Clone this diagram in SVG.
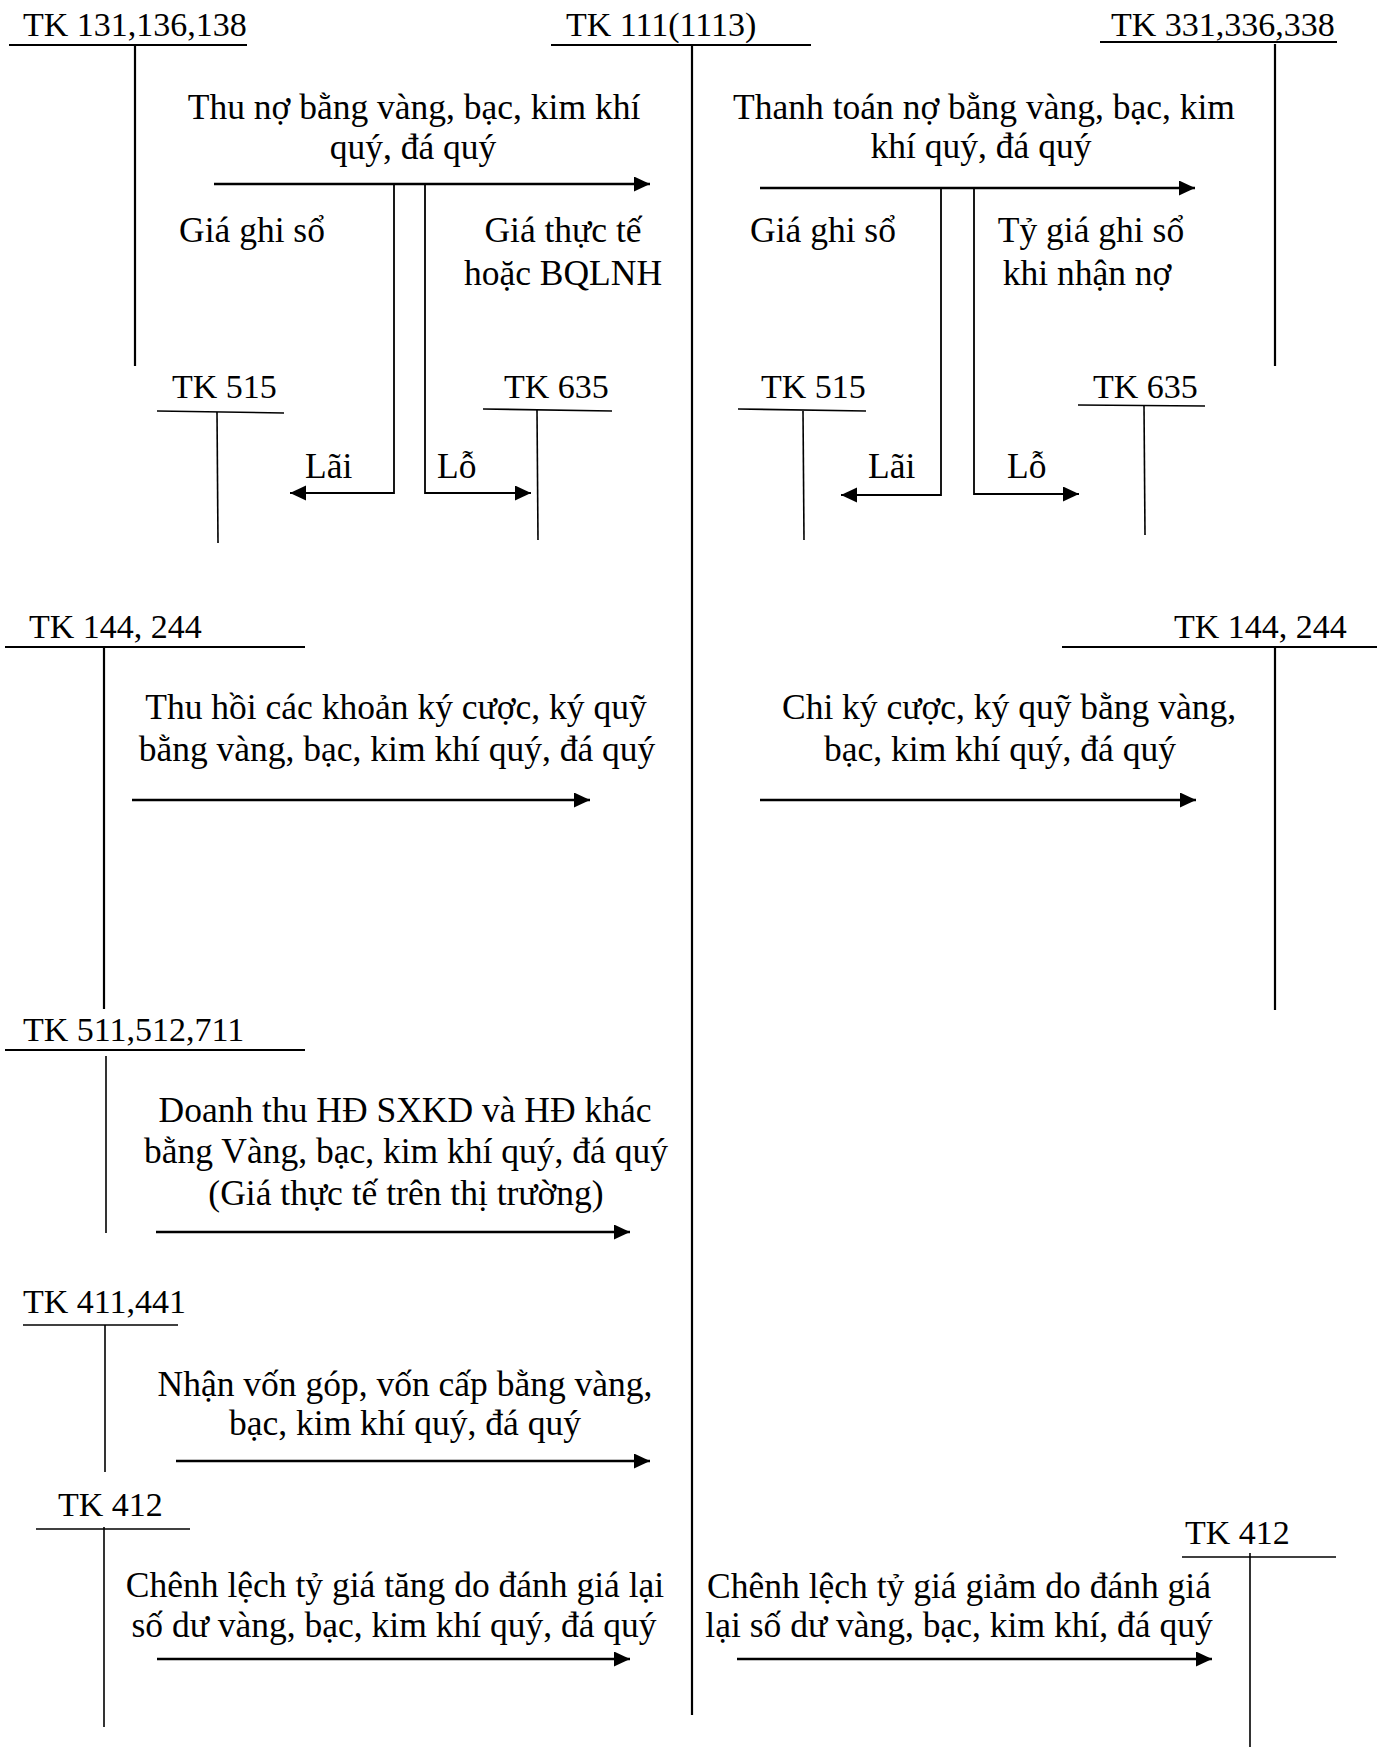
<svg xmlns="http://www.w3.org/2000/svg" width="1383" height="1747" viewBox="0 0 1383 1747">
<style>
text { font-family: "Liberation Serif", "Times New Roman", serif; fill: #000; }
.lbl { font-size: 34px; }
.txt { font-size: 35.5px; }
.c { text-anchor: middle; }
.tl { stroke: #000; stroke-width: 2.2; fill: none; }
.th { stroke: #000; stroke-width: 1.6; fill: none; }
.arr { stroke: #000; stroke-width: 2.6; fill: none; marker-end: url(#ah); }
.br { stroke: #000; stroke-width: 1.8; fill: none; marker-end: url(#ah); }
</style>
<defs>
<marker id="ah" markerUnits="userSpaceOnUse" markerWidth="17" markerHeight="16" refX="16" refY="7.5" orient="auto">
<path d="M0,0 L16,7.5 L0,15 z" fill="#000"/>
</marker>
</defs>
<rect x="0" y="0" width="1383" height="1747" fill="#fff"/>

<g id="tk131">
<text class="lbl" x="23" y="36">TK 131,136,138</text>
<line class="tl" x1="9" y1="45" x2="247" y2="45"/>
<line class="tl" x1="135" y1="45" x2="135" y2="366"/>
</g>
<g id="tk111">
<text class="lbl" x="566" y="36">TK 111(1113)</text>
<line class="tl" x1="551" y1="45" x2="811" y2="45"/>
<line class="tl" x1="692" y1="45" x2="692" y2="1715"/>
</g>
<g id="tk331">
<text class="lbl" x="1111" y="36">TK 331,336,338</text>
<line class="tl" x1="1100" y1="42" x2="1337" y2="42"/>
<line class="tl" x1="1275" y1="44" x2="1275" y2="366"/>
</g>
<g id="tk515a">
<text class="lbl" x="172" y="398">TK 515</text>
<line class="th" x1="157" y1="411" x2="284" y2="413"/>
<line class="th" x1="217" y1="412" x2="218" y2="543"/>
</g>
<g id="tk635a">
<text class="lbl" x="504" y="398">TK 635</text>
<line class="th" x1="483" y1="409" x2="612" y2="411"/>
<line class="th" x1="537" y1="410" x2="538" y2="540"/>
</g>
<g id="tk515b">
<text class="lbl" x="761" y="398">TK 515</text>
<line class="th" x1="738" y1="409" x2="866" y2="411"/>
<line class="th" x1="803" y1="411" x2="804" y2="540"/>
</g>
<g id="tk635b">
<text class="lbl" x="1093" y="398">TK 635</text>
<line class="th" x1="1078" y1="405" x2="1205" y2="406"/>
<line class="th" x1="1144" y1="405" x2="1145" y2="535"/>
</g>
<g id="tk144a">
<text class="lbl" x="29" y="638">TK 144, 244</text>
<line class="tl" x1="5" y1="647" x2="305" y2="647"/>
<line class="tl" x1="104" y1="647" x2="104" y2="1009"/>
</g>
<g id="tk144b">
<text class="lbl" x="1174" y="638">TK 144, 244</text>
<line class="tl" x1="1062" y1="647" x2="1377" y2="647"/>
<line class="tl" x1="1275" y1="647" x2="1275" y2="1010"/>
</g>
<g id="tk511">
<text class="lbl" x="23" y="1041">TK 511,512,711</text>
<line class="tl" x1="5" y1="1050" x2="305" y2="1050"/>
<line class="th" x1="106" y1="1056" x2="106" y2="1233"/>
</g>
<g id="tk411">
<text class="lbl" x="23" y="1313">TK 411,441</text>
<line class="th" x1="23" y1="1325" x2="178" y2="1325"/>
<line class="th" x1="105" y1="1325" x2="105" y2="1472"/>
</g>
<g id="tk412a">
<text class="lbl" x="58" y="1516">TK 412</text>
<line class="th" x1="36" y1="1529" x2="190" y2="1529"/>
<line class="th" x1="104" y1="1527" x2="104" y2="1727"/>
</g>
<g id="tk412b">
<text class="lbl" x="1185" y="1544">TK 412</text>
<line class="th" x1="1182" y1="1557" x2="1336" y2="1557"/>
<line class="th" x1="1250" y1="1553" x2="1250" y2="1747"/>
</g>

<g id="connectors">
<path class="arr" d="M214,184 H650"/>
<path class="br" d="M394,184 V493 H290"/>
<path class="br" d="M425,184 V493 H531"/>
<text class="txt c" x="414" y="119">Thu nợ bằng vàng, bạc, kim khí</text>
<text class="txt c" x="413" y="159">quý, đá quý</text>
<text class="txt" x="179" y="242">Giá ghi sổ</text>
<text class="txt c" x="563" y="242">Giá thực tế</text>
<text class="txt c" x="563" y="285">hoặc BQLNH</text>
<text class="txt" x="305" y="478">Lãi</text>
<text class="txt" x="437" y="478">Lỗ</text>

<path class="arr" d="M760,188 H1195"/>
<path class="br" d="M941,188 V495 H841"/>
<path class="br" d="M974,188 V494 H1079"/>
<text class="txt c" x="984" y="119">Thanh toán nợ bằng vàng, bạc, kim</text>
<text class="txt c" x="981" y="158">khí quý, đá quý</text>
<text class="txt" x="750" y="242">Giá ghi sổ</text>
<text class="txt c" x="1091" y="242">Tỷ giá ghi sổ</text>
<text class="txt c" x="1087" y="285">khi nhận nợ</text>
<text class="txt" x="868" y="478">Lãi</text>
<text class="txt" x="1007" y="478">Lỗ</text>

<path class="arr" d="M132,800 H590"/>
<text class="txt c" x="396" y="719">Thu hồi các khoản ký cược, ký quỹ</text>
<text class="txt c" x="397" y="761">bằng vàng, bạc, kim khí quý, đá quý</text>

<path class="arr" d="M760,800 H1196"/>
<text class="txt c" x="1009" y="719">Chi ký cược, ký quỹ bằng vàng,</text>
<text class="txt c" x="1000" y="761">bạc, kim khí quý, đá quý</text>

<path class="arr" d="M156,1232 H630"/>
<text class="txt c" x="405" y="1122">Doanh thu HĐ SXKD và HĐ khác</text>
<text class="txt c" x="406" y="1163">bằng Vàng, bạc, kim khí quý, đá quý</text>
<text class="txt c" x="406" y="1205">(Giá thực tế trên thị trường)</text>

<path class="arr" d="M176,1461 H650"/>
<text class="txt c" x="405" y="1396">Nhận vốn góp, vốn cấp bằng vàng,</text>
<text class="txt c" x="405" y="1435">bạc, kim khí quý, đá quý</text>

<path class="arr" d="M157,1659 H630"/>
<text class="txt c" x="395" y="1597">Chênh lệch tỷ giá tăng do đánh giá lại</text>
<text class="txt c" x="394" y="1637">số dư vàng, bạc, kim khí quý, đá quý</text>

<path class="arr" d="M737,1659 H1212"/>
<text class="txt c" x="959" y="1598">Chênh lệch tỷ giá giảm do đánh giá</text>
<text class="txt c" x="959" y="1637">lại số dư vàng, bạc, kim khí, đá quý</text>
</g>
</svg>
